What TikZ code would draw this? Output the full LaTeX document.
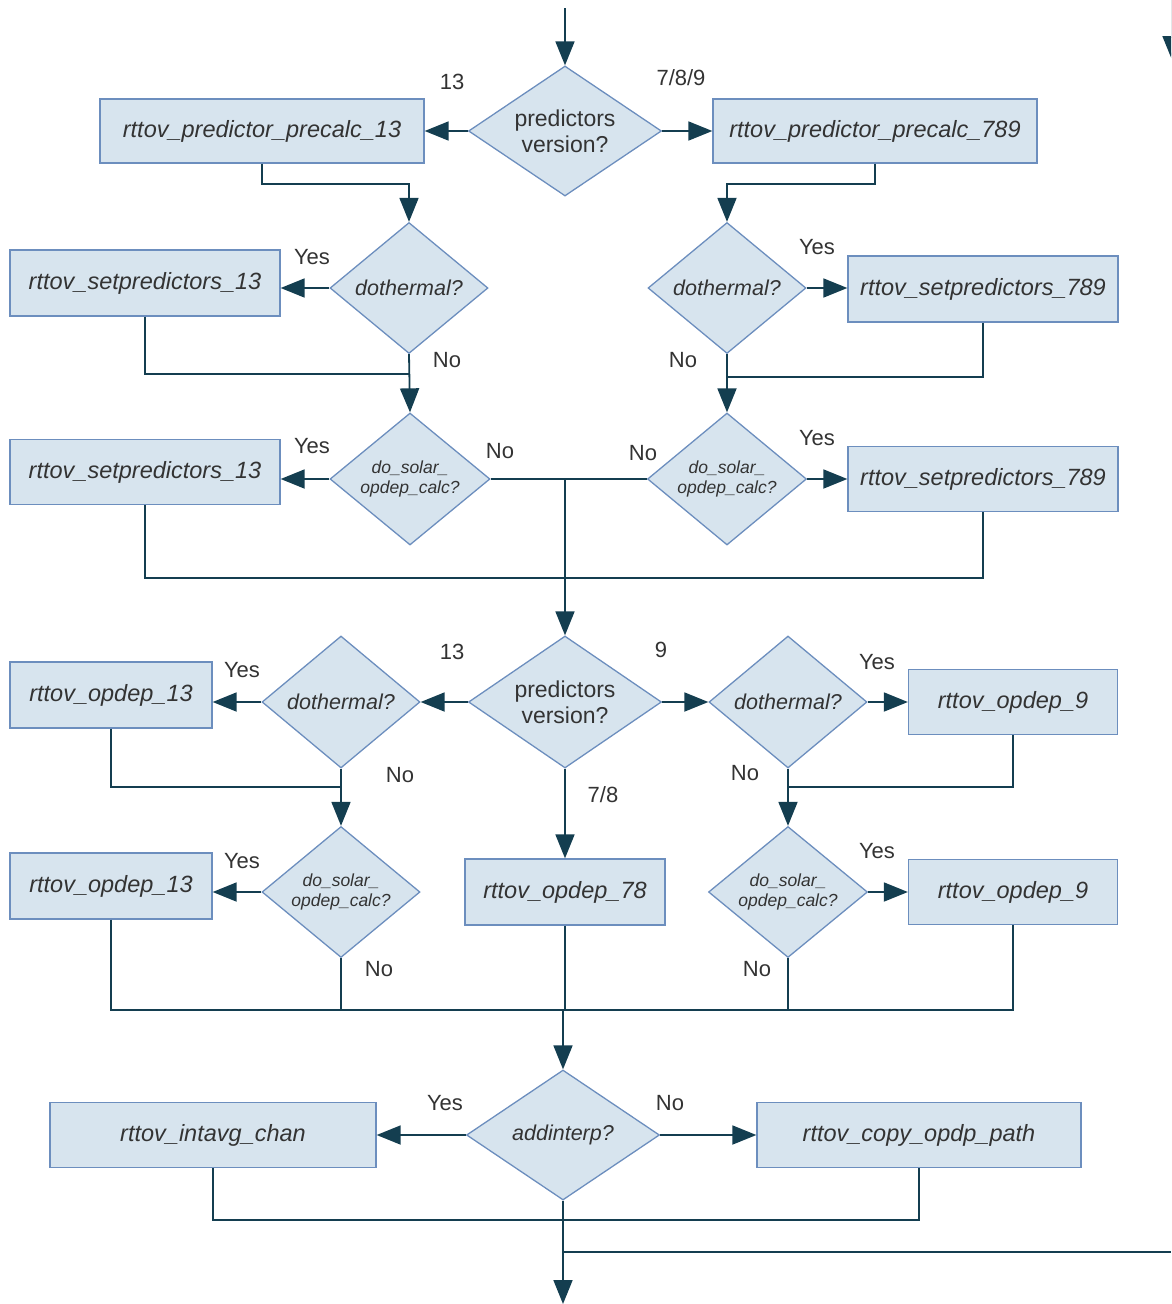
\documentclass[tikz,border=0pt]{standalone}
\usepackage{fontspec}
\setmainfont{Liberation Sans}
\usetikzlibrary{shapes.geometric,arrows.meta,positioning}

\definecolor{boxfill}{RGB}{215,228,238}
\definecolor{boxborder}{RGB}{108,142,190}
\definecolor{linecol}{RGB}{20,62,80}
\definecolor{textgray}{RGB}{51,51,51}

\tikzset{
  box/.style={draw=boxborder,fill=boxfill,line width=1.3pt,inner sep=0pt,
    text=textgray,font=\fontsize{23.5}{27}\selectfont\itshape},
  dec/.style={diamond,draw=boxborder,fill=boxfill,line width=1.3pt,inner sep=0pt,
    shape aspect=1.3,align=center,text=textgray,font=\fontsize{23}{26}\selectfont},
  decit/.style={dec,font=\fontsize{21.5}{26}\selectfont\itshape},
  decsm/.style={dec,font=\fontsize{17.5}{20}\selectfont\itshape},
  lab/.style={text=textgray,font=\fontsize{22}{24}\selectfont,inner sep=0pt},
  conn/.style={draw=linecol,line width=1.8pt},
  flow/.style={conn,-{Triangle[length=24pt,width=19pt]}}
}

\begin{document}
\begin{tikzpicture}[x=1pt,y=-1pt]
  \clip (0,0) rectangle (1171,1304);

  % first block: predictor precalc / setpredictors
  \node[dec,minimum width=193pt,minimum height=130pt] (pv1) at (565,131) {predictors\\version?};
  \node[box,minimum width=324pt,minimum height=64pt] (pp13) at (262,131) {rttov\_predictor\_precalc\_13};
  \node[box,minimum width=324pt,minimum height=64pt] (pp789) at (875,131) {rttov\_predictor\_precalc\_789};

  \node[decit,minimum width=158pt,minimum height=131pt] (dt13) at (409,288) {dothermal?};
  \node[decit,minimum width=158pt,minimum height=131pt] (dt789) at (727,288) {dothermal?};
  \node[box,minimum width=270pt,minimum height=66pt] (sp13a) at (145,283) {rttov\_setpredictors\_13};
  \node[box,minimum width=270pt,minimum height=66pt] (sp789a) at (983,289) {rttov\_setpredictors\_789};

  \node[decsm,minimum width=160pt,minimum height=132pt] (ds13) at (410,479) {do\_solar\_\\opdep\_calc?};
  \node[decsm,minimum width=159pt,minimum height=132pt] (ds789) at (727,479) {do\_solar\_\\opdep\_calc?};
  \node[box,minimum width=270pt,minimum height=65pt] (sp13b) at (145,472) {rttov\_setpredictors\_13};
  \node[box,minimum width=270pt,minimum height=65pt] (sp789b) at (983,479) {rttov\_setpredictors\_789};

  % second block: opdep
  \node[dec,minimum width=193pt,minimum height=132pt] (pv2) at (565,702) {predictors\\version?};
  \node[decit,minimum width=158pt,minimum height=132pt] (dt13c) at (341,702) {dothermal?};
  \node[decit,minimum width=158pt,minimum height=132pt] (dt9) at (788,702) {dothermal?};
  \node[box,minimum width=202pt,minimum height=66pt] (od13a) at (111,695) {rttov\_opdep\_13};
  \node[box,minimum width=209pt,minimum height=65pt] (od9a) at (1013,702) {rttov\_opdep\_9};

  \node[decsm,minimum width=158pt,minimum height=131pt] (ds13c) at (341,892) {do\_solar\_\\opdep\_calc?};
  \node[decsm,minimum width=159pt,minimum height=131pt] (ds9) at (788,892) {do\_solar\_\\opdep\_calc?};
  \node[box,minimum width=202pt,minimum height=66pt] (od13b) at (111,886) {rttov\_opdep\_13};
  \node[box,minimum width=209pt,minimum height=65pt] (od9b) at (1013,892) {rttov\_opdep\_9};
  \node[box,minimum width=200pt,minimum height=66pt] (od78) at (565,892) {rttov\_opdep\_78};

  % third block: addinterp
  \node[decit,minimum width=193pt,minimum height=130pt] (ai) at (563,1135) {addinterp?};
  \node[box,minimum width=326pt,minimum height=65pt] (ic) at (213,1135) {rttov\_intavg\_chan};
  \node[box,minimum width=324pt,minimum height=65pt] (cp) at (919,1135) {rttov\_copy\_opdp\_path};

  % join points
  \coordinate (in1) at (565,8);
  \coordinate (in2) at (1172,0);
  \coordinate (in2end) at (1172,60);
  \coordinate (j1) at (409,374);
  \coordinate (j2) at (727,377);
  \coordinate (m0) at (565,479);
  \coordinate (m1) at (565,578);
  \coordinate (j4) at (341,787);
  \coordinate (j5) at (788,787);
  \coordinate (m2) at (563,1010);
  \coordinate (m3) at (563,1220);
  \coordinate (m4) at (563,1252);
  \coordinate (exit) at (1171,1252);
  \coordinate (out) at (563,1304);

  %top arrows
  \draw[flow] (in1) -- (pv1.north);
  \draw[flow] (in2) -- (in2end);

  %first block connectors
  \draw[flow] (pv1.west) -- (pp13.east);
  \draw[flow] (pv1.east) -- (pp789.west);
  \draw[flow] (pp13.south) -- ++(0,20) -| (dt13.north);
  \draw[flow] (pp789.south) -- ++(0,20) -| (dt789.north);
  \draw[flow] (dt13.west) -- (dt13.west -| sp13a.east);
  \draw[flow] (dt789.east) -- (dt789.east -| sp789a.west);
  \draw[flow] (dt13.south) -- (ds13.north);
  \draw[flow] (dt789.south) -- (ds789.north);
  \draw[conn] (sp13a.south) |- (j1);
  \draw[conn] (sp789a.south) |- (j2);
  \draw[flow] (ds13.west) -- (ds13.west -| sp13b.east);
  \draw[flow] (ds789.east) -- (ds789.east -| sp789b.west);
  \draw[conn] (ds13.east) -- (ds789.west);
  \draw[conn] (sp13b.south) |- (m1);
  \draw[conn] (sp789b.south) |- (m1);
  \draw[flow] (m0) -- (pv2.north);

  %second block connectors
  \draw[flow] (pv2.west) -- (dt13c.east);
  \draw[flow] (pv2.east) -- (dt9.west);
  \draw[flow] (pv2.south) -- (od78.north);
  \draw[flow] (dt13c.west) -- (dt13c.west -| od13a.east);
  \draw[flow] (dt9.east) -- (dt9.east -| od9a.west);
  \draw[flow] (dt13c.south) -- (ds13c.north);
  \draw[flow] (dt9.south) -- (ds9.north);
  \draw[conn] (od13a.south) |- (j4);
  \draw[conn] (od9a.south) |- (j5);
  \draw[flow] (ds13c.west) -- (ds13c.west -| od13b.east);
  \draw[flow] (ds9.east) -- (ds9.east -| od9b.west);
  \draw[conn] (od13b.south) |- (m2);
  \draw[conn] (od9b.south) |- (m2);
  \draw[conn] (ds13c.south) -- (ds13c.south |- m2);
  \draw[conn] (ds9.south) -- (ds9.south |- m2);
  \draw[conn] (od78.south) -- (od78.south |- m2);
  \draw[flow] (m2) -- (ai.north);

  %third block connectors
  \draw[flow] (ai.west) -- (ic.east);
  \draw[flow] (ai.east) -- (cp.west);
  \draw[conn] (ic.south) |- (m3);
  \draw[conn] (cp.south) |- (m3);
  \draw[flow] (ai.south) -- (out);
  \draw[conn] (m4) -- (exit);

  %labels
  \node[lab] (l1) at (452,82) {13};
  \node[lab] (l2) at (681,78) {7/8/9};
  \node[lab] (l3) at (312,257) {Yes};
  \node[lab] (l4) at (817,247) {Yes};
  \node[lab] (l5) at (447,360) {No};
  \node[lab] (l6) at (683,360) {No};
  \node[lab] (l7) at (312,446) {Yes};
  \node[lab] (l8) at (500,451) {No};
  \node[lab] (l9) at (643,453) {No};
  \node[lab] (l10) at (817,438) {Yes};
  \node[lab] (l11) at (452,652) {13};
  \node[lab] (l12) at (661,650) {9};
  \node[lab] (l13) at (242,670) {Yes};
  \node[lab] (l14) at (877,662) {Yes};
  \node[lab] (l15) at (400,775) {No};
  \node[lab] (l16) at (745,773) {No};
  \node[lab] (l17) at (603,795) {7/8};
  \node[lab] (l18) at (242,861) {Yes};
  \node[lab] (l19) at (877,851) {Yes};
  \node[lab] (l20) at (379,969) {No};
  \node[lab] (l21) at (757,969) {No};
  \node[lab] (l22) at (445,1103) {Yes};
  \node[lab] (l23) at (670,1103) {No};
\end{tikzpicture}
\end{document}
